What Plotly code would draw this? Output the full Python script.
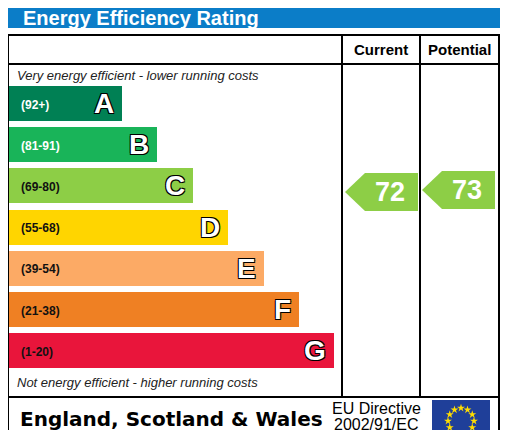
import math
import plotly.graph_objects as go

# ── Data ──────────────────────────────────────────────
bands  = ["A", "B", "C", "D", "E", "F", "G"]
ranges = ["(92+)", "(81-91)", "(69-80)", "(55-68)", "(39-54)", "(21-38)", "(1-20)"]
lows   = [92, 81, 69, 55, 39, 21, 1]
colors = ["#008054", "#19b459", "#8dce46", "#ffd500", "#fcaa65", "#ef8023", "#e9153b"]
bar_ends = [122, 157, 193, 228, 264, 299, 334]   # right edge of each band (px)
current, potential = 72, 73

# ── Geometry (pixel space; page body has an 8px margin) ──
W, H = 509, 430
OFF = 8
x0 = 9
row_top, row_step, row_h = 86, 41.2, 35
centers = [row_top + i * row_step + row_h / 2 for i in range(len(bands))]

def band_of(v):
    for i, lo in enumerate(lows):
        if v >= lo:
            return i
    return len(lows) - 1

fig = go.Figure()

fig.add_trace(go.Bar(
    y=centers, x=[e - x0 for e in bar_ends], base=x0, orientation="h",
    width=row_h, marker=dict(color=colors, line=dict(width=0)),
    hoverinfo="skip", showlegend=False))

outline = "1px 1px 0 #000, -1px -1px 0 #000, 1px -1px 0 #000, -1px 1px 0 #000"
for i, b in enumerate(bands):
    fig.add_annotation(x=bar_ends[i] - 6, y=centers[i], text=f"<b>{b}</b>", showarrow=False,
                       xanchor="right", font=dict(size=28, color="white", family="Arial", shadow=outline))
    fig.add_annotation(x=x0 + 10, y=centers[i] + 1, text=f"<b>{ranges[i]}</b>", showarrow=False,
                       xanchor="left", font=dict(size=12, family="Arial",
                                                 color="white" if i < 2 else "#111"))

# rating arrows
def arrow(v, xl, xr, dy):
    i = band_of(v)
    c = centers[i] + dy
    h = 19
    xs = [xl, xl + 20, xr, xr, xl + 20, xl]
    ys = [c, c - h, c - h, c + h, c + h, c]
    fig.add_trace(go.Scatter(x=xs, y=ys, fill="toself", fillcolor=colors[i], mode="lines",
                             line=dict(width=0), hoverinfo="skip", showlegend=False))
    fig.add_annotation(x=(xl + xr) / 2 + 8, y=c, text=f"<b>{v}</b>", showarrow=False,
                       font=dict(size=27, color="white", family="Arial"))

arrow(current, 345, 418, 6)
arrow(potential, 422, 495, 4)

shapes = [
    dict(type="rect", x0=7, x1=500, y0=-5, y1=28, fillcolor="#0b7dc8", line=dict(width=0), layer="below"),
    dict(type="rect", x0=8, x1=499, y0=35, y1=440, line=dict(color="black", width=2)),
    dict(type="line", x0=8, x1=499, y0=64, y1=64, line=dict(color="black", width=2)),
    dict(type="line", x0=8, x1=499, y0=397, y1=397, line=dict(color="black", width=2)),
    dict(type="line", x0=342, x1=342, y0=35, y1=397, line=dict(color="black", width=2)),
    dict(type="line", x0=420, x1=420, y0=35, y1=397, line=dict(color="black", width=2)),
    dict(type="rect", x0=432, x1=490, y0=400, y1=440, fillcolor="#1f3f99", line=dict(width=0), layer="below"),
]

texts = [
    dict(x=21, y=18, text="<b>Energy Efficiency Rating</b>", size=20, color="white", anchor="left"),
    dict(x=381, y=49, text="<b>Current</b>", size=15, color="black", anchor="center"),
    dict(x=459, y=49, text="<b>Potential</b>", size=15, color="black", anchor="center"),
    dict(x=15, y=75, text="<i>Very energy efficient - lower running costs</i>", size=13, color="#222", anchor="left"),
    dict(x=15, y=382, text="<i>Not energy efficient - higher running costs</i>", size=13, color="#222", anchor="left"),
    dict(x=18, y=419, text="<b>England, Scotland & Wales</b>", size=20, color="black", anchor="left", fam="Verdana, DejaVu Sans"),
    dict(x=376, y=408, text="EU Directive", size=16, color="black", anchor="center"),
    dict(x=376, y=424, text="2002/91/EC", size=16, color="black", anchor="center"),
]
for t in texts:
    fig.add_annotation(x=t["x"], y=t["y"], text=t["text"], showarrow=False, xanchor=t["anchor"],
                       font=dict(size=t["size"], color=t["color"], family=t.get("fam", "Arial")))

# EU flag stars
sx = [461 + 13 * math.sin(2 * math.pi * k / 12) for k in range(12)]
sy = [421 - 13 * math.cos(2 * math.pi * k / 12) for k in range(12)]
fig.add_trace(go.Scatter(x=sx, y=sy, mode="markers", hoverinfo="skip", showlegend=False,
                         cliponaxis=False,
                         marker=dict(symbol="star", size=6, color="#ffdd00", line=dict(width=0))))

fig.update_layout(
    width=W - OFF, height=H - OFF, margin=dict(l=0, r=0, t=0, b=0),
    paper_bgcolor="white", plot_bgcolor="white", shapes=shapes, bargap=0,
    xaxis=dict(range=[OFF, W], visible=False, fixedrange=True),
    yaxis=dict(range=[H, OFF], visible=False, fixedrange=True),
)

fig.write_html("out.html")
